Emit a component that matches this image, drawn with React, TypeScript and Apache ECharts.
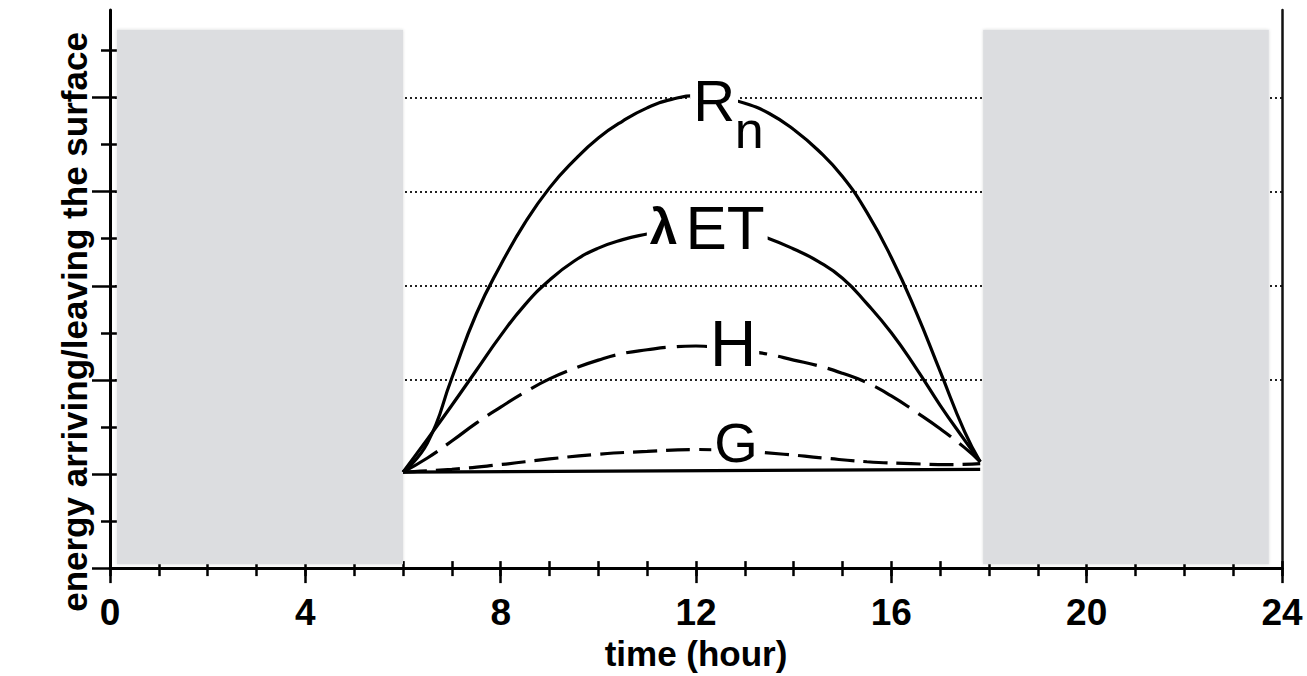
import React, { useEffect, useRef } from "react";
import * as echarts from "echarts";

// hours shown on the time axis
const hourTicks = [0, 4, 8, 12, 16, 20, 24];
const majorLevels = [0, 1, 2, 3, 4, 5];
const minorLevels = [0.5, 1.5, 2.5, 3.5, 4.5, 5.5];
const gridLevels = [2, 3, 4, 5];

// [hour, energy]
const rnData = [
  [6.0, 1.02], [6.5, 1.33], [7.0, 2.02], [7.5, 2.7], [8.0, 3.22], [8.5, 3.67],
  [9.0, 4.04], [9.5, 4.33], [10.0, 4.57], [10.5, 4.75], [11.0, 4.89], [11.5, 4.98],
  [12.0, 5.02], [12.5, 5.0], [13.0, 4.94], [13.5, 4.83], [14.0, 4.66], [14.5, 4.44],
  [15.0, 4.16], [15.5, 3.78], [16.0, 3.3], [16.5, 2.73], [17.0, 2.09], [17.5, 1.45],
  [17.82, 1.13],
];
const letData = [
  [6.0, 1.02], [6.5, 1.37], [7.0, 1.73], [7.5, 2.1], [8.0, 2.47], [8.5, 2.8],
  [9.0, 3.06], [9.5, 3.26], [10.0, 3.4], [10.5, 3.49], [11.0, 3.55], [11.5, 3.6],
  [12.0, 3.63], [12.5, 3.62], [13.0, 3.58], [13.5, 3.5], [14.0, 3.39], [14.5, 3.26],
  [15.0, 3.08], [15.5, 2.81], [16.0, 2.5], [16.5, 2.13], [17.0, 1.73], [17.5, 1.36],
  [17.82, 1.13],
];
const hData = [
  [6.0, 1.02], [6.5, 1.17], [7.0, 1.35], [7.5, 1.54], [8.0, 1.71], [8.5, 1.87],
  [9.0, 2.01], [9.5, 2.12], [10.0, 2.21], [10.5, 2.28], [11.0, 2.32], [11.5, 2.35],
  [12.0, 2.36], [12.5, 2.34], [13.0, 2.31], [13.5, 2.27], [14.0, 2.21], [14.5, 2.15],
  [15.0, 2.07], [15.5, 1.97], [16.0, 1.83], [16.5, 1.66], [17.0, 1.48], [17.5, 1.28],
  [17.82, 1.13],
];
const gData = [
  [6.0, 1.02], [7.0, 1.05], [8.0, 1.1], [9.0, 1.16], [10.0, 1.21], [11.0, 1.24],
  [12.0, 1.26], [13.0, 1.24], [13.8, 1.21], [14.6, 1.17], [15.5, 1.13], [16.4, 1.11],
  [17.2, 1.1], [17.82, 1.11],
];
const baselineData = [
  [6.0, 1.02], [17.82, 1.05],
];
// night periods (hours) shaded grey
const shadedPeriods = [
  [0.14, 6.0],
  [17.88, 23.73],
];
const shadeRange = [0.04, 5.72];

const FONT = "'Liberation Sans', Arial, Helvetica, sans-serif";
const NARROW = "'Liberation Sans Narrow', 'Liberation Sans', Arial, sans-serif";
const YMAX = 5.93;

export default function App() {
  const ref = useRef<HTMLDivElement>(null);

  useEffect(() => {
    const chart = echarts.init(ref.current as HTMLDivElement, null, { renderer: "svg" });
    const tickStyle = { color: "#000", width: 2.5 };
    const plainY = {
      type: "value",
      min: 0,
      max: YMAX,
      axisLabel: { show: false },
      splitLine: { show: false },
    };
    const plainX = {
      type: "value",
      min: 0,
      max: 24,
      position: "bottom",
      offset: 0,
      axisLine: { show: false },
      axisLabel: { show: false },
      splitLine: { show: false },
    };
    const curve = (name: string, data: number[][], type: any, extra: any = {}) => ({
      name,
      type: "line",
      data,
      smooth: 0.5,
      symbol: "none",
      showSymbol: false,
      silent: true,
      xAxisIndex: 0,
      yAxisIndex: 0,
      lineStyle: { color: "#000", width: 3.2, type },
      ...extra,
    });
    const label = (text: string, coord: number[], fontSize: number, bg: boolean, lineHeight: number) => ({
      coord,
      symbol: "circle",
      symbolSize: 1,
      itemStyle: { color: "rgba(0,0,0,0)" },
      label: {
        show: true,
        position: "inside",
        formatter: text,
        fontSize,
        fontFamily: NARROW,
        color: "#000",
        lineHeight,
        backgroundColor: bg ? "#fff" : "transparent",
        padding: [0, 3],
        rich: {
          l: { fontSize: fontSize * 0.8, fontFamily: NARROW, fontWeight: "bold", color: "#000", padding: [0, 8, 0, 0], lineHeight },
          e: { fontSize, fontFamily: NARROW, color: "#000", lineHeight },
        },
      },
    });

    chart.setOption({
      animation: false,
      backgroundColor: "#fff",
      grid: { left: 110, right: 25, top: 10, bottom: 101, containLabel: false },
      xAxis: [
        {
          type: "value",
          min: 0,
          max: 24,
          interval: 4,
          position: "bottom",
          axisLine: { show: true, onZero: false, lineStyle: { color: "#000", width: 3 } },
          axisTick: { show: true, length: 15, lineStyle: tickStyle },
          axisLabel: {
            fontSize: 37,
            fontWeight: "bold",
            fontFamily: FONT,
            color: "#000",
            margin: 26,
            formatter: (v: number) => (hourTicks.includes(v) ? String(v) : ""),
          },
          splitLine: { show: false },
          name: "time (hour)",
          nameLocation: "middle",
          nameGap: 64,
          nameTextStyle: { fontSize: 35, fontWeight: "bold", fontFamily: FONT, color: "#000" },
        },
        { ...plainX, interval: 1, axisTick: { show: true, length: 8, lineStyle: tickStyle } },
        { ...plainX, interval: 1, axisTick: { show: true, inside: true, length: 7, lineStyle: tickStyle } },
      ],
      yAxis: [
        {
          ...plainY,
          interval: 1,
          position: "left",
          axisLine: { show: true, onZero: false, lineStyle: { color: "#000", width: 3 } },
          axisTick: { show: true, length: 18, lineStyle: tickStyle, customValues: majorLevels },
        },
        {
          ...plainY,
          interval: 0.5,
          position: "left",
          offset: 0,
          axisLine: { show: false },
          axisTick: { show: true, inside: true, length: 7, lineStyle: tickStyle, customValues: [...majorLevels, ...minorLevels] },
        },
        {
          ...plainY,
          interval: 0.5,
          position: "left",
          offset: 0,
          axisLine: { show: false },
          axisTick: { show: true, length: 9, lineStyle: tickStyle, customValues: minorLevels },
        },
        {
          ...plainY,
          interval: 1,
          position: "right",
          offset: 0,
          axisLine: { show: true, onZero: false, lineStyle: { color: "#111", width: 2.5 } },
          axisTick: { show: false, customValues: gridLevels },
          splitLine: {
            show: true,
            lineStyle: { color: "#222", width: 2, type: [2, 3] },
          },
        },
      ],
      graphic: [
        {
          type: "text",
          x: 74,
          y: 322,
          rotation: Math.PI / 2,
          silent: true,
          style: {
            text: "energy arriving/leaving the surface",
            fill: "#000",
            font: `bold 35px ${FONT}`,
            textAlign: "center",
            textVerticalAlign: "middle",
          },
        },
      ],
      series: [
        curve("baseline", baselineData, "solid", {
          smooth: false,
          markArea: {
            silent: true,
            itemStyle: {
              color: "#dcdde0",
              opacity: 1,
              shadowBlur: 3,
              shadowColor: "rgba(0,0,0,0.15)",
            },
            data: shadedPeriods.map(([a, b]) => [
              { coord: [a, shadeRange[0]] },
              { coord: [b, shadeRange[1]] },
            ]),
          },
        }),
        curve("G", gData, [24, 9], {
          markPoint: { silent: true, data: [label("G", [12.82, 1.33], 56, true, 44)] },
        }),
        curve("H", hData, [40, 11], {
          markPoint: { silent: true, data: [label("H", [12.76, 2.38], 64, true, 48)] },
        }),
        curve("λET", letData, "solid", {
          markPoint: { silent: true, data: [label("{l|λ}{e|ET}", [12.23, 3.62], 62, true, 48)] },
        }),
        curve("Rn", rnData, "solid", {
          markPoint: {
            silent: true,
            data: [
              label("R", [12.37, 4.97], 58, true, 46),
              label("n", [13.09, 4.65], 52, false, 40),
            ],
          },
        }),
      ],
    });
    return () => chart.dispose();
  }, []);

  return (
    <div
      ref={ref}
      style={{ position: "fixed", left: 0, top: 0, width: 1307, height: 676, background: "#fff" }}
    />
  );
}
